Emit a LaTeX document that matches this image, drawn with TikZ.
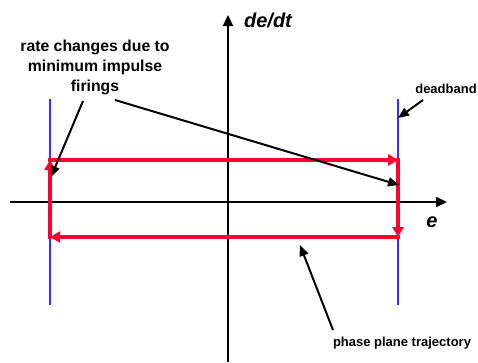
\documentclass[tikz,border=0pt]{standalone}
\usepackage{fontspec}
\setmainfont{Liberation Sans}
\usetikzlibrary{arrows.meta}
\definecolor{trajred}{RGB}{255,0,51}
\definecolor{dbblue}{RGB}{51,51,255}
\begin{document}
\begin{tikzpicture}[x=1pt,y=-1pt,
 axis/.style={line width=2.1pt,-{Triangle[length=11pt,width=10pt]}},
 band/.style={line width=2.5pt,dbblue},
 traj/.style={line width=4.5pt,trajred,line cap=rect,-{Triangle[length=10pt,width=11pt]}},
 pointer/.style={line width=2pt,-{Triangle[length=11pt,width=9pt]}},
 lbl/.style={font=\bfseries\fontsize{15.8}{20}\selectfont,align=center,inner sep=0pt},
 small/.style={font=\bfseries\fontsize{13}{15}\selectfont,inner sep=0pt},
 axlbl/.style={font=\bfseries\itshape\fontsize{20}{22}\selectfont,inner sep=0pt}]
\useasboundingbox (0,0) rectangle (478,362);
% coordinates
\coordinate (vb) at (228,362); \coordinate (vt) at (228,15);
\coordinate (hl) at (10,202);  \coordinate (hr) at (447,202);
\coordinate (lbt) at (50,99);  \coordinate (lbb) at (50,305);
\coordinate (rbt) at (398,99); \coordinate (rbb) at (398,305);
\coordinate (tl) at (50,160);  \coordinate (tr) at (398,160);
\coordinate (br) at (398,237); \coordinate (bl) at (50,237);
% deadband lines
\draw[band] (lbt) -- (lbb);
\draw[band] (rbt) -- (rbb);
% axes
\draw[axis] (vb) -- (vt);
\draw[axis] (hl) -- (hr);
% trajectory
\draw[traj] (tl) -- (tr);
\draw[traj] (tr) -- (br);
\draw[traj] (br) -- (bl);
\draw[traj] (bl) -- (tl);
% labels
\node[lbl] (rate) at (95,67) {rate changes due to\\minimum impulse\\firings};
\node[small] (db) at (446,89) {deadband};
\node[small] (ppt) at (402,343) {phase plane trajectory};
\node[axlbl] (dedt) at (268,20) {de/dt};
\node[axlbl] (elbl) at (432,222) {e};
% pointers
\coordinate (p1s) at (83,101);  \coordinate (p1e) at (51,177);
\coordinate (p2s) at (115,100); \coordinate (p2e) at (399,185);
\coordinate (p3s) at (423,100); \coordinate (p3e) at (398,118);
\coordinate (p4s) at (333,330); \coordinate (p4e) at (300,245);
\draw[pointer] (p1s) -- (p1e);
\draw[pointer] (p2s) -- (p2e);
\draw[pointer] (p3s) -- (p3e);
\draw[pointer] (p4s) -- (p4e);
\end{tikzpicture}
\end{document}
